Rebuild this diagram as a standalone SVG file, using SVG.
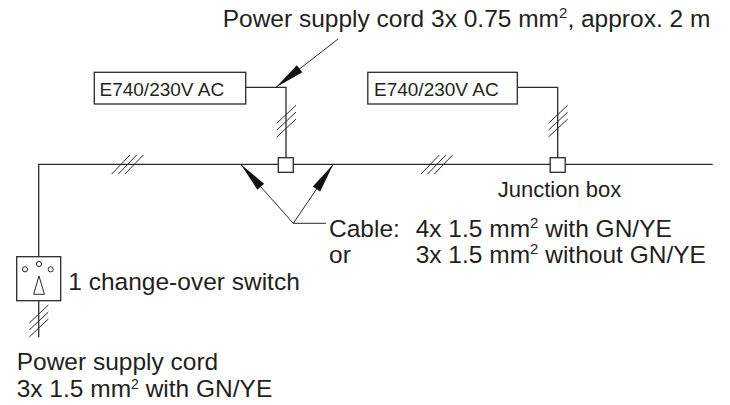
<svg xmlns="http://www.w3.org/2000/svg" width="730" height="405" viewBox="0 0 730 405">
<style>
.ln{fill:none;stroke:#2a2a2a;stroke-width:1.3}
.th{fill:none;stroke:#2a2a2a;stroke-width:1}
.box{fill:#fff;stroke:#2a2a2a;stroke-width:1.3}
.ah{fill:#111;stroke:none}
text{font-family:"Liberation Sans",Arial,sans-serif;fill:#231f20}
.t{font-size:24.5px}
.b{font-size:19px}
.j{font-size:22px}
</style>
<rect width="730" height="405" fill="#fff"/>
<g id="connectors">
<path class="ln" d="M712.7,164.3 H38.7 V256.7"/>
<path class="ln" d="M38.7,300.7 V337.3"/>
<path class="ln" d="M245.7,87.3 H286 V157.7"/>
<path class="ln" d="M517.3,87.3 H557.7 V157.7"/>
<path class="th" d="M111.7,174 L130,155 M118.3,174 L136.7,155 M125,174 L143.3,155"/>
<path class="th" d="M421,174 L439.3,155 M427.6,174 L445.9,155 M434.3,174 L452.6,155"/>
<path class="th" d="M276.7,123.3 L296,105.3 M276.7,130.2 L296,112.2 M276.7,137.1 L296,119.1"/>
<path class="th" d="M548.4,123.3 L567.7,105.3 M548.4,130.2 L567.7,112.2 M548.4,137.1 L567.7,119.1"/>
<path class="th" d="M29.3,323 L48.3,305 M29.3,330 L48.3,312 M29.3,337 L48.3,319"/>
<path class="th" d="M276,87.3 L338,39"/>
<polygon class="ah" points="276,87.3 302.4,72.3 296.8,65.2"/>
<path class="th" d="M240.7,164.3 L293.3,223.3 L333.3,164.3 M293.3,223.3 H326"/>
<polygon class="ah" points="240.7,164.3 264.1,183.7 257.4,189.7"/>
<polygon class="ah" points="333.3,164.3 320.2,191.6 312.8,186.6"/>
</g>
<g id="box1">
<rect class="box" x="94.3" y="72.3" width="151.4" height="31.7"/>
<text class="b" x="99.5" y="96">E740/230V AC</text>
</g>
<g id="box2">
<rect class="box" x="367.8" y="72.3" width="149.5" height="31.7"/>
<text class="b" x="374" y="96">E740/230V AC</text>
</g>
<g id="junction1">
<rect class="box" x="278.3" y="157.7" width="15" height="14.6"/>
</g>
<g id="junction2">
<rect class="box" x="550.2" y="157.7" width="15" height="14.6"/>
<text class="j" x="497.7" y="196.5">Junction box</text>
</g>
<g id="switch">
<rect class="box" x="16.7" y="256.7" width="44" height="44"/>
<circle class="th" cx="25" cy="269.3" r="2.6"/>
<circle class="th" cx="39" cy="264" r="2.6"/>
<circle class="th" cx="50.7" cy="269.3" r="2.6"/>
<polygon class="th" points="39,276 33.6,294.3 44.4,294.3"/>
<text class="t" x="68.3" y="290">1 change-over switch</text>
</g>
<g id="labels">
<text class="t" x="222.7" y="27.3">Power supply cord 3x 0.75 mm<tspan font-size="15" dy="-9">2</tspan><tspan dy="9">, approx. 2 m</tspan></text>
<text class="t" x="329" y="236.5">Cable:</text>
<text class="t" x="415.7" y="236.5">4x 1.5 mm<tspan font-size="15" dy="-9">2</tspan><tspan dy="9"> with GN/YE</tspan></text>
<text class="t" x="329" y="262.5">or</text>
<text class="t" x="415.7" y="262.5">3x 1.5 mm<tspan font-size="15" dy="-9">2</tspan><tspan dy="9"> without GN/YE</tspan></text>
<text class="t" x="16.7" y="370">Power supply cord</text>
<text class="t" x="16.7" y="397">3x 1.5 mm<tspan font-size="14" dy="-8">2</tspan><tspan dy="8"> with GN/YE</tspan></text>
</g>
</svg>
